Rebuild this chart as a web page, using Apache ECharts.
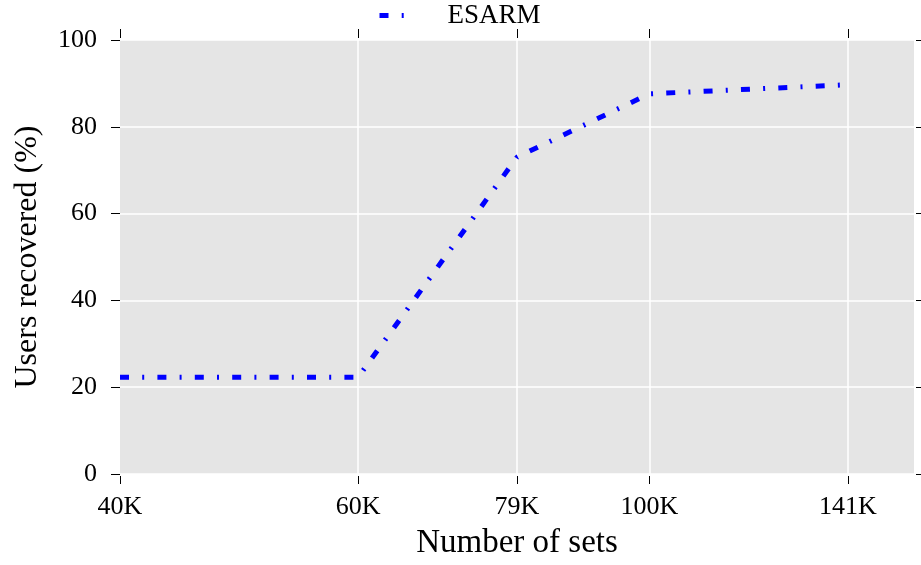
<!DOCTYPE html>
<html>
<head>
<meta charset="utf-8">
<script src="https://cdn.jsdelivr.net/npm/echarts@6/dist/echarts.min.js"></script>
<style>
  html, body { margin: 0; padding: 0; background: #fff; }
  #chart { width: 921px; height: 565px; }
</style>
</head>
<body>
<div id="chart"></div>
<script>
// Position of each measured set size along the horizontal axis
const setPositions = [0, 3.6, 6, 8, 11];
// Tick labels for those set sizes
const setLabels = ['40K', '60K', '79K', '100K', '141K'];
// Share of users recovered (%) at each set size
const esarmRecovered = [22.3, 22.3, 73.0, 87.6, 89.7];
const seriesName = 'ESARM';

const serif = 'Liberation Serif';
const labelFor = v => {
  const i = setPositions.findIndex(p => Math.abs(p - v) < 1e-6);
  return i >= 0 ? setLabels[i] : '';
};
const dashStyle = [9, 13.2, 2, 13.2];
const Y_MIN = 0, Y_MAX = 100;

const chart = echarts.init(document.getElementById('chart'), null, { renderer: 'canvas' });

const yCommon = {
  type: 'value',
  min: Y_MIN,
  max: Y_MAX,
  interval: 20,
  offset: 2,
  axisLine: { show: false },
  axisTick: { show: true, length: 9, lineStyle: { color: '#000', width: 1 } }
};

// Short outward tick marks above and below the plot at every labelled set size
function renderSetTicks(params, api) {
  const x = api.value(0);
  const bottom = api.coord([x, Y_MIN]);
  const top = api.coord([x, Y_MAX]);
  const px = Math.round(bottom[0]) + 0.5;
  const tickStyle = { stroke: '#000', lineWidth: 1 };
  return {
    type: 'group',
    children: [
      { type: 'line', shape: { x1: px, y1: bottom[1] + 2, x2: px, y2: bottom[1] + 10 }, style: tickStyle },
      { type: 'line', shape: { x1: px, y1: top[1] - 2, x2: px, y2: top[1] - 11 }, style: tickStyle }
    ]
  };
}

chart.setOption({
  animation: false,
  legend: {
    data: [seriesName],
    left: 377,
    top: 2,
    padding: 0,
    itemWidth: 30,
    itemHeight: 14,
    itemStyle: { opacity: 0 },
    lineStyle: { width: 5, type: dashStyle, color: '#0000ff', cap: 'butt' },
    textStyle: { fontFamily: serif, fontSize: 27, color: '#000', padding: [0, 0, 0, 33] }
  },
  grid: {
    left: 120,
    right: 7,
    top: 40,
    bottom: 89,
    show: true,
    backgroundColor: '#e5e5e5',
    borderWidth: 0
  },
  xAxis: {
    type: 'value',
    min: 0,
    max: 12,
    offset: 2,
    position: 'bottom',
    axisLine: { show: false },
    axisTick: { show: false },
    splitLine: { show: false },
    name: 'Number of sets',
    nameLocation: 'middle',
    nameGap: 51,
    nameTextStyle: { fontFamily: serif, fontSize: 33, color: '#000' },
    axisLabel: {
      show: true,
      customValues: setPositions,
      formatter: labelFor,
      margin: 18,
      fontFamily: serif,
      fontSize: 26,
      color: '#000'
    }
  },
  yAxis: [
    Object.assign({}, yCommon, {
      position: 'left',
      name: 'Users recovered (%)',
      nameLocation: 'middle',
      nameGap: 74,
      nameTextStyle: { fontFamily: serif, fontSize: 32, color: '#000' },
      axisLabel: { margin: 21, fontFamily: serif, fontSize: 26, color: '#000' },
      splitLine: { show: true, lineStyle: { color: '#ffffff', width: 1.5 } }
    }),
    Object.assign({}, yCommon, {
      position: 'right',
      axisLabel: { show: false },
      splitLine: { show: false }
    })
  ],
  series: [
    {
      name: seriesName,
      type: 'line',
      xAxisIndex: 0,
      yAxisIndex: 0,
      symbol: 'none',
      data: setPositions.map((x, i) => [x, esarmRecovered[i]]),
      lineStyle: { color: '#0000ff', width: 5, type: dashStyle, cap: 'butt' },
      itemStyle: { color: '#0000ff' },
      z: 5,
      markLine: {
        silent: true,
        symbol: 'none',
        label: { show: false },
        lineStyle: { color: '#ffffff', width: 1.5, type: 'solid' },
        z: 1,
        data: setPositions.slice(1).map(x => ({ xAxis: x }))
      }
    },
    {
      name: 'setTicks',
      type: 'custom',
      xAxisIndex: 0,
      yAxisIndex: 0,
      clip: false,
      silent: true,
      z: 6,
      renderItem: renderSetTicks,
      data: setPositions.map(x => [x])
    }
  ]
});
</script>
</body>
</html>
